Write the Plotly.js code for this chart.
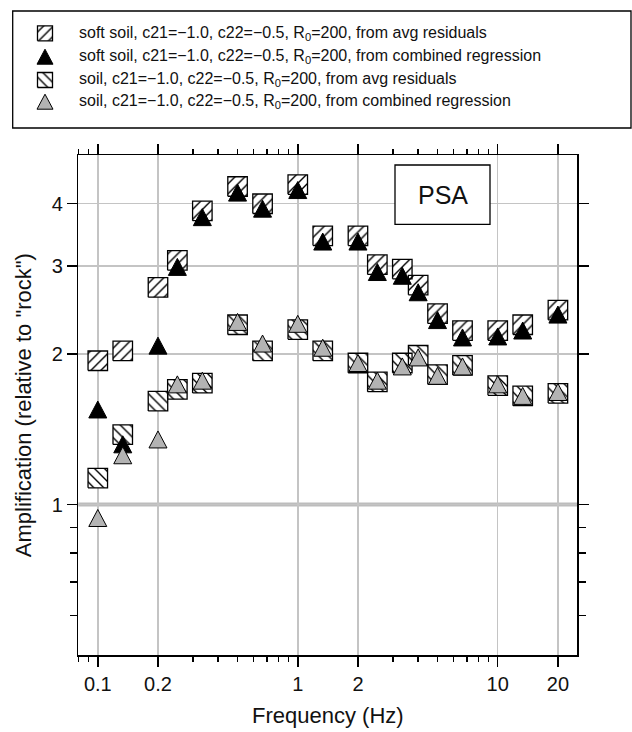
<!DOCTYPE html>
<html><head><meta charset="utf-8">
<script src="https://cdn.plot.ly/plotly-3.0.1.min.js"></script>
<style>html,body{margin:0;padding:0;background:#fff}</style>
</head><body><div id="chart" style="width:632px;height:732px"></div>
<script>
// ---- data ----
const freq    = [0.1, 0.1333, 0.2, 0.25, 0.3333, 0.5, 0.6667, 1, 1.3333, 2, 2.5, 3.3333, 4, 5, 6.6667, 10, 13.333, 20];
const softAvg = [1.94, 2.03, 2.72, 3.08, 3.87, 4.33, 4.00, 4.37, 3.45, 3.45, 3.02, 2.96, 2.75, 2.41, 2.23, 2.23, 2.29, 2.45];
const softReg = [1.55, 1.32, 2.08, 2.99, 3.76, 4.21, 3.91, 4.26, 3.36, 3.36, 2.92, 2.87, 2.66, 2.34, 2.16, 2.17, 2.23, 2.40];
const soilAvg = [1.13, 1.38, 1.61, 1.70, 1.75, 2.29, 2.03, 2.24, 2.03, 1.92, 1.76, 1.92, 1.99, 1.82, 1.90, 1.73, 1.65, 1.67];
const soilReg = [0.94, 1.255, 1.35, 1.74, 1.77, 2.32, 2.10, 2.30, 2.06, 1.92, 1.77, 1.89, 1.97, 1.81, 1.89, 1.74, 1.65, 1.68];
const seriesNames = [
  'soft soil, c21=\u22121.0, c22=\u22120.5, R<sub>0</sub>=200, from avg residuals',
  'soft soil, c21=\u22121.0, c22=\u22120.5, R<sub>0</sub>=200, from combined regression',
  'soil, c21=\u22121.0, c22=\u22120.5, R<sub>0</sub>=200, from avg residuals',
  'soil, c21=\u22121.0, c22=\u22120.5, R<sub>0</sub>=200, from combined regression'
];
const xTickVals = [0.1, 0.2, 1, 2, 10, 20];
const xTickText = ['0.1', '0.2', '1', '2', '10', '20'];
const xMinorVals = [0.08, 0.09, 0.3, 0.4, 0.5, 0.6, 0.7, 0.8, 0.9, 3, 4, 5, 6, 7, 8, 9];
const yTickVals = [1, 2, 3, 4];
const yMinorVals = [0.6, 0.7, 0.8, 0.9];
const panelLabel = 'PSA';
const xTitle = 'Frequency (Hz)';
const yTitle = 'Amplification (relative to "rock")';

// ---- geometry / style ----
const W = 632, H = 732;
const M = {l: 10, r: 0, t: 10, b: 77};
const plotW = W - M.l - M.r, plotH = H - M.t - M.b;
const frame = {x0: 78.3, x1: 577.3, y0: 155.3, y1: 655};
const xRange = [Math.log10(0.0799), Math.log10(25)];
const yRange = [Math.log10(0.5), Math.log10(5)];
const xDom = [(frame.x0 - M.l) / plotW, (frame.x1 - M.l) / plotW];
const yDom = [(H - M.b - frame.y1) / plotH, (H - M.b - frame.y0) / plotH];
const pxX = (frame.x1 - frame.x0) / (xRange[1] - xRange[0]);
const pxY = (frame.y1 - frame.y0) / (yRange[1] - yRange[0]);
const px = x => (x - M.l) / plotW;
const py = y => (H - M.b - y) / plotH;
const FONT = 'Liberation Sans, Arial, Helvetica, sans-serif';
const GRAY = '#b3b3b3';
const legendAreaBottom = 135; // page px; legend overlay axis lives above this

function logSquares(xs, ys, h) {
  const kx = Math.pow(10, h / pxX), ky = Math.pow(10, h / pxY);
  const X = [], Y = [];
  xs.forEach((x, i) => {
    const y = ys[i];
    X.push(x / kx, x * kx, x * kx, x / kx, x / kx, null);
    Y.push(y / ky, y / ky, y * ky, y * ky, y / ky, null);
  });
  return {X, Y};
}
function logTriangles(xs, ys, hw, ht) {
  const kx = Math.pow(10, hw / pxX), ky = Math.pow(10, (ht / 2) / pxY);
  const X = [], Y = [];
  xs.forEach((x, i) => {
    const y = ys[i];
    X.push(x / kx, x * kx, x, x / kx, null);
    Y.push(y / ky, y / ky, y * ky, y / ky, null);
  });
  return {X, Y};
}
function pxSquare(cx, cy, h) {
  return {X: [cx - h, cx + h, cx + h, cx - h, cx - h], Y: [cy + h, cy + h, cy - h, cy - h, cy + h]};
}
function pxTriangle(cx, cy, hw, ht) {
  return {X: [cx - hw, cx + hw, cx, cx - hw], Y: [cy + ht / 2, cy + ht / 2, cy - ht / 2, cy + ht / 2]};
}

const styles = [
  {kind: 'sq', pattern: '/'},
  {kind: 'tri', fill: '#000000'},
  {kind: 'sq', pattern: '\\'},
  {kind: 'tri', fill: GRAY}
];
const values = [softAvg, softReg, soilAvg, soilReg];

function makeTrace(geom, st, name, xa, ya) {
  const t = {
    type: 'scatter', mode: 'lines', x: geom.X, y: geom.Y, fill: 'toself',
    name: name, showlegend: false, hoverinfo: 'skip', xaxis: xa, yaxis: ya,
    line: {color: '#000', width: st.kind === 'sq' ? 1.3 : 1}
  };
  if (st.kind === 'sq') {
    t.fillcolor = '#ffffff';
    t.fillpattern = {shape: st.pattern, fgcolor: '#000', bgcolor: '#fff', size: 7, solidity: 0.2, fillmode: 'replace'};
  } else {
    t.fillcolor = st.fill;
  }
  return t;
}

const traces = [];
[0, 2, 1, 3].forEach(i => {
  const st = styles[i];
  const g = st.kind === 'sq' ? logSquares(freq, values[i], 9.75) : logTriangles(freq, values[i], 9, 17);
  traces.push(makeTrace(g, st, seriesNames[i], 'x', 'y'));
});
const legendRowsY = [33.3, 56.7, 80, 101.7];
const legendKeyX = 45, legendTextX = 77;
styles.forEach((st, i) => {
  const g = st.kind === 'sq' ? pxSquare(legendKeyX, legendRowsY[i], 7.5) : pxTriangle(legendKeyX, legendRowsY[i], 8, 15);
  traces.push(makeTrace(g, st, seriesNames[i], 'x2', 'y2'));
});

const annotations = seriesNames.map((n, i) => ({
  xref: 'paper', yref: 'paper', x: px(legendTextX), y: py(legendRowsY[i]),
  xanchor: 'left', yanchor: 'middle', showarrow: false, text: n,
  font: {family: FONT, size: 16, color: '#111'}
}));
annotations.push({
  xref: 'paper', yref: 'paper', x: px(442.5), y: py(195), xanchor: 'center', yanchor: 'middle',
  showarrow: false, text: panelLabel, font: {family: FONT, size: 25, color: '#111'}
});

const shapes = [
  {type: 'line', xref: 'paper', x0: xDom[0], x1: xDom[1], yref: 'y', y0: 1, y1: 1,
   line: {color: '#bdbdbd', width: 4}, layer: 'below'},
  {type: 'rect', xref: 'paper', yref: 'paper', x0: px(12.7), x1: px(631), y0: py(128), y1: py(11),
   line: {color: '#000', width: 1.3}, fillcolor: 'rgba(0,0,0,0)'},
  {type: 'rect', xref: 'paper', yref: 'paper', x0: px(395), x1: px(490), y0: py(224.3), y1: py(165),
   line: {color: '#000', width: 1.3}, fillcolor: '#fff'}
];

const axisCommon = {
  showline: true, linecolor: '#000', linewidth: 1.5, mirror: 'ticks',
  ticks: 'outside', tickcolor: '#000', tickwidth: 1.5,
  showgrid: true, gridcolor: '#c4c4c4', gridwidth: 1.5, zeroline: false,
  tickfont: {family: FONT, size: 20, color: '#111'}
};

const layout = {
  width: W, height: H, margin: M, paper_bgcolor: '#fff', plot_bgcolor: 'rgba(0,0,0,0)',
  showlegend: false,
  xaxis: Object.assign({}, axisCommon, {
    type: 'log', range: xRange, domain: xDom, anchor: 'y',
    tickmode: 'array', tickvals: xTickVals, ticktext: xTickText, ticklen: 10,
    minor: {tickmode: 'array', tickvals: xMinorVals, ticklen: 5, tickwidth: 1.5, tickcolor: '#000', ticks: 'outside', showgrid: false},
    title: {text: xTitle, font: {family: FONT, size: 22, color: '#111'}, standoff: 14}
  }),
  yaxis: Object.assign({}, axisCommon, {
    type: 'log', range: yRange, domain: yDom, anchor: 'x',
    tickmode: 'array', tickvals: yTickVals, ticktext: yTickVals.map(String), ticklen: 10,
    minor: {tickmode: 'array', tickvals: yMinorVals, ticklen: 7, tickwidth: 1.5, tickcolor: '#000', ticks: 'outside', showgrid: false},
    title: {text: yTitle, font: {family: FONT, size: 22, color: '#111'}, standoff: 14}
  }),
  xaxis2: {domain: [0, 1], range: [M.l, W - M.r], anchor: 'y2', visible: false, fixedrange: true, showgrid: false, zeroline: false},
  yaxis2: {domain: [py(legendAreaBottom), 1], range: [legendAreaBottom, M.t], anchor: 'x2', visible: false, fixedrange: true, showgrid: false, zeroline: false},
  shapes: shapes,
  annotations: annotations
};

Plotly.newPlot('chart', traces, layout, {staticPlot: true, displayModeBar: false});
</script>
</body></html>
